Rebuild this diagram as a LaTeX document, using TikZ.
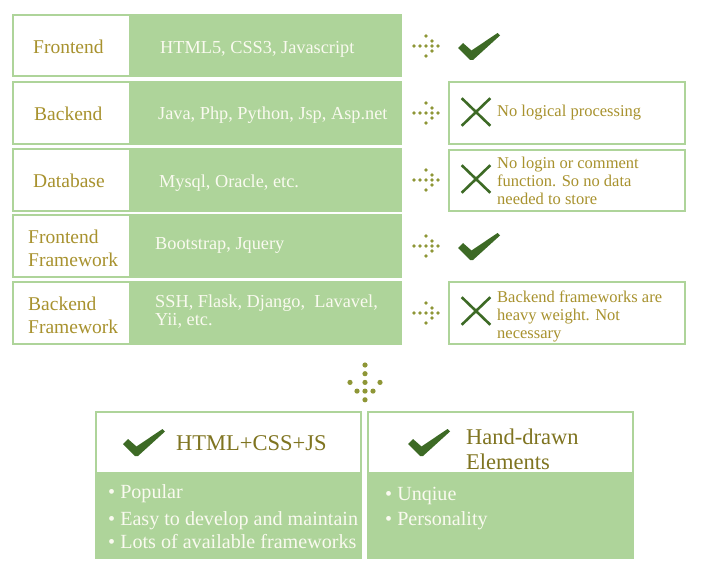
\documentclass[tikz,border=0pt]{standalone}
\usepackage{fontspec}
\setmainfont{Liberation Serif}
\usetikzlibrary{shapes.misc}
\definecolor{lg}{HTML}{AED49A}
\definecolor{dg}{HTML}{3D6A25}
\definecolor{gold}{HTML}{A8922E}
\definecolor{olive}{HTML}{7F7420}
\definecolor{dotc}{HTML}{8E9636}
\definecolor{cream}{HTML}{FAFAF0}
\tikzset{
  rowbg/.style={fill=lg, draw=none, inner sep=0pt, anchor=north west},
  labbox/.style={fill=white, draw=none, inner sep=0pt, anchor=north west},
  notebox/.style={fill=white, draw=lg, line width=2pt, inner sep=0pt},
  lab/.style={text=gold, font=\fontsize{19.5}{23}\selectfont, align=left, inner sep=0pt},
  val/.style={text=cream, font=\fontsize{18.3}{18}\selectfont, align=left, inner sep=0pt},
  note/.style={text=gold, font=\fontsize{16.5}{18}\selectfont, align=left, inner sep=0pt},
  head/.style={text=olive, font=\fontsize{22.5}{25}\selectfont, align=left, inner sep=0pt},
  bul/.style={text=cream, font=\fontsize{20.1}{24}\selectfont, inner sep=0pt, anchor=base west},
  xmark/.style={cross out, draw=dg, line width=2.6pt, inner sep=0pt, minimum width=26pt, minimum height=25pt},
  chk/.pic={\fill[dg] (0,15) -- (5,10) -- (13.5,17.5) -- (39.5,0) -- (42,2.5) -- (15,27) -- (12,27) -- cycle;},
  rarr/.pic={\foreach \p in {(0,0),(6,0),(12,0),(18,0),(24,0),(12,-10),(12,10),(18,-5),(18,5)} \fill[dotc] \p circle (1.9);},
  darr/.pic={\foreach \p in {(0,0),(0,8.7),(0,17.4),(0,26.1),(0,34.8),(-15,17.4),(15,17.4),(-8,26.1),(8,26.1)} \fill[dotc] \p circle (2.6);}
}
\begin{document}
\begin{tikzpicture}[x=1pt,y=-1pt]
\useasboundingbox (0,0) rectangle (706,569);
% rows
\node[rowbg, minimum width=390, minimum height=63] (r1) at (12,14) {};
\node[rowbg, minimum width=390, minimum height=64] (r2) at (12,81) {};
\node[rowbg, minimum width=390, minimum height=64] (r3) at (12,148) {};
\node[rowbg, minimum width=390, minimum height=64] (r4) at (12,214) {};
\node[rowbg, minimum width=390, minimum height=64] (r5) at (12,281) {};
\node[labbox, minimum width=115, minimum height=59] (l1) at (14,16) {};
\node[labbox, minimum width=115, minimum height=60] (l2) at (14,83) {};
\node[labbox, minimum width=115, minimum height=60] (l3) at (14,150) {};
\node[labbox, minimum width=115, minimum height=60] (l4) at (14,216) {};
\node[labbox, minimum width=115, minimum height=60] (l5) at (14,283) {};
% labels
\node[lab, anchor=base west] (t1) at (33,54) {Frontend};
\node[lab, anchor=base west] (t2) at (34,120.5) {Backend};
\node[lab, anchor=base west] (t3) at (33,188) {Database};
\node[lab, anchor=west] (t4) at (28,248) {Frontend\\Framework};
\node[lab, anchor=west] (t5) at (28,315) {Backend\\Framework};
% values
\node[val, anchor=base west] (v1) at (160,54) {HTML5, CSS3, Javascript};
\node[val, anchor=base west] (v2) at (158,120) {Java, Php, Python, Jsp, Asp.net};
\node[val, anchor=base west] (v3) at (159,188) {Mysql, Oracle, etc.};
\node[val, anchor=base west] (v4) at (155,250) {Bootstrap, Jquery};
\node[val, anchor=west] (v5) at (155,312) {SSH, Flask, Django,\ \ Lavavel,\\Yii, etc.};
% dotted arrows
\pic at (414,46) {rarr};
\pic at (414,113) {rarr};
\pic at (414,180) {rarr};
\pic at (414,246) {rarr};
\pic at (414,313) {rarr};
% results
\pic at (458,33) {chk};
\pic at (458,233) {chk};
\node[notebox, minimum width=236, minimum height=62] (n2) at (567,113) {};
\node[notebox, minimum width=236, minimum height=61] (n3) at (567,180.5) {};
\node[notebox, minimum width=236, minimum height=62] (n5) at (567,313) {};
\node[xmark] (x2) at (476,112) {};
\node[xmark] (x3) at (476,179) {};
\node[xmark] (x5) at (476,311) {};
\node[note, anchor=base west] (m2) at (497,117) {No logical processing};
\node[note, anchor=west] (m3) at (497,181) {No login or comment\\function. So no data\\needed to store};
\node[note, anchor=west] (m5) at (497,316) {Backend frameworks are\\heavy weight. Not\\necessary};
% down arrow
\pic at (365,365) {darr};
% bottom boxes
\node[rowbg, minimum width=267, minimum height=148] (bl) at (95,411) {};
\node[labbox, minimum width=263, minimum height=59] (hl) at (97,413) {};
\node[rowbg, minimum width=267, minimum height=148] (br) at (367,411) {};
\node[labbox, minimum width=263, minimum height=59] (hr) at (369,413) {};
\pic at (123,429) {chk};
\pic at (408,429) {chk};
\node[head, anchor=base west] (h1) at (176,450) {HTML+CSS+JS};
\node[head, anchor=west] (h2) at (466,449) {Hand-drawn\\Elements};
\node[bul] (b1) at (108,498) {• Popular};
\node[bul] (b2) at (108,525) {• Easy to develop and maintain};
\node[bul] (b3) at (108,548) {• Lots of available frameworks};
\node[bul] (b4) at (385,500) {• Unqiue};
\node[bul] (b5) at (385,525) {• Personality};
\end{tikzpicture}
\end{document}
